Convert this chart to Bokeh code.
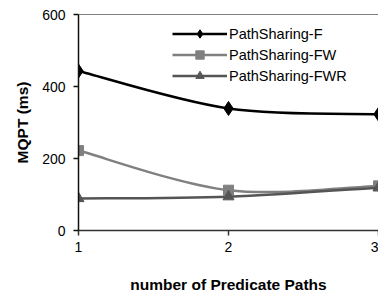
from bokeh.plotting import figure
from bokeh.models import Range1d, Span, Legend, LegendItem, FixedTicker, ColumnDataSource
from bokeh.embed import file_html
from bokeh.resources import INLINE

x_vals = [1, 2, 3]
f_vals = [443, 339, 323]
fw_vals = [222, 112, 124]
fwr_vals = [89, 94, 119]
series_names = ["PathSharing-F", "PathSharing-FW", "PathSharing-FWR"]
y_ticks = [0, 200, 400, 600]

FONT = "Liberation Sans"

p = figure(width=378, height=295, output_backend="svg", toolbar_location=None,
           x_range=Range1d(1, 3), y_range=Range1d(0, 600),
           min_border_left=78, min_border_right=0, min_border_top=14, min_border_bottom=63)
p.outline_line_color = None
p.grid.visible = False
p.background_fill_color = "white"
p.border_fill_color = "white"


def smooth(xs, ys):
    # Catmull-Rom style bezier control points from the data points
    n = len(xs)
    x0, y0, x1, y1, cx0, cy0, cx1, cy1 = [], [], [], [], [], [], [], []
    for i in range(n - 1):
        pxm = xs[i - 1] if i > 0 else xs[i]
        pym = ys[i - 1] if i > 0 else ys[i]
        pxp = xs[i + 2] if i + 2 < n else xs[i + 1]
        pyp = ys[i + 2] if i + 2 < n else ys[i + 1]
        x0.append(xs[i]); y0.append(ys[i])
        x1.append(xs[i + 1]); y1.append(ys[i + 1])
        cx0.append(xs[i] + (xs[i + 1] - pxm) / 6)
        cy0.append(ys[i] + (ys[i + 1] - pym) / 6)
        cx1.append(xs[i + 1] - (pxp - xs[i]) / 6)
        cy1.append(ys[i + 1] - (pyp - ys[i]) / 6)
    return dict(x0=x0, y0=y0, x1=x1, y1=y1, cx0=cx0, cy0=cy0, cx1=cx1, cy1=cy1)


styles = [
    (f_vals, "#000000", "diamond", 14, 2.5),
    (fw_vals, "#808080", "square", 10, 2.5),
    (fwr_vals, "#555555", "triangle", 11, 2.5),
]

items = []
for (vals, color, marker, size, lw), name in zip(styles, series_names):
    src = ColumnDataSource(smooth(x_vals, vals))
    b = p.bezier(x0="x0", y0="y0", x1="x1", y1="y1", cx0="cx0", cy0="cy0",
                 cx1="cx1", cy1="cy1", source=src, line_color=color, line_width=lw)
    s = p.scatter(x_vals, vals, marker=marker, size=size, fill_color=color,
                  line_color=color)
    items.append(LegendItem(label=name, renderers=[b, s]))

legend = Legend(items=items, location=(94, 144), padding=0, margin=0, spacing=0,
                glyph_width=55, glyph_height=21, label_height=21, label_standoff=2,
                border_line_color=None, background_fill_alpha=0,
                label_text_font=FONT, label_text_font_size="14.5px",
                label_text_color="#000000")
p.add_layout(legend, "center")

p.add_layout(Span(location=600, dimension="width", line_color="#000000", line_width=1))

p.xaxis.ticker = FixedTicker(ticks=x_vals)
p.yaxis.ticker = FixedTicker(ticks=y_ticks)
for ax in (p.xaxis, p.yaxis):
    ax.minor_tick_line_color = None
    ax.major_tick_in = 0
    ax.major_tick_out = 5
    ax.axis_line_width = 1.5
    ax.major_tick_line_width = 1.5
    ax.major_label_text_font = FONT
    ax.major_label_text_font_size = "14px"
    ax.major_label_text_color = "#000000"
    ax.axis_label_text_font = FONT
    ax.axis_label_text_font_style = "bold"
    ax.axis_label_text_font_size = "15.5px"
    ax.axis_label_text_color = "#000000"

p.xaxis.axis_line_color = "#333333"
p.xaxis.major_tick_line_color = "#333333"
p.yaxis.axis_line_color = "#111111"
p.yaxis.major_tick_line_color = "#111111"

p.xaxis.axis_label = "number of Predicate Paths"
p.yaxis.axis_label = "MQPT (ms)"
p.xaxis.major_label_standoff = 6
p.yaxis.major_label_standoff = 8
p.xaxis.axis_label_standoff = 21
p.yaxis.axis_label_standoff = 8

open("out.html", "w").write(file_html(p, INLINE))
